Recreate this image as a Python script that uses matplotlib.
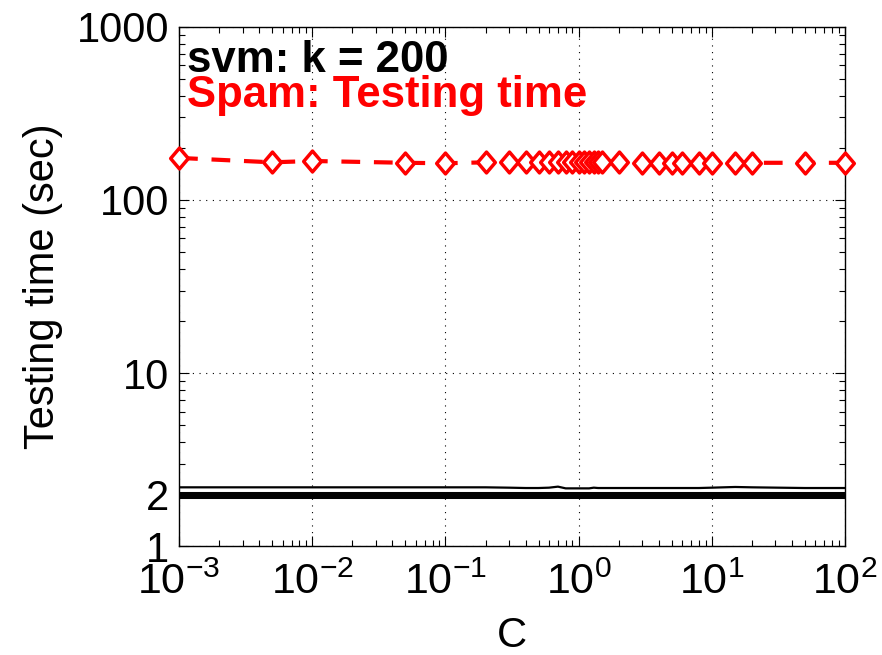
import matplotlib
matplotlib.use("Agg")
import matplotlib.pyplot as plt
import numpy as np
from matplotlib.ticker import FixedLocator, FixedFormatter, LogLocator, NullFormatter
from matplotlib.path import Path

plt.rcParams['font.family'] = ['Liberation Sans', 'DejaVu Sans']
plt.rcParams['mathtext.fontset'] = 'custom'
plt.rcParams['mathtext.rm'] = 'Liberation Sans'
plt.rcParams['mathtext.it'] = 'Liberation Sans:italic'
plt.rcParams['mathtext.bf'] = 'Liberation Sans:bold'

# Data
C_values = [0.001, 0.005, 0.01, 0.05, 0.1, 0.2, 0.3, 0.4, 0.5, 0.6, 0.7, 0.8, 0.9,
            1.0, 1.1, 1.2, 1.3, 1.4, 1.5, 2, 3, 4, 5, 6, 8, 10, 15, 20, 50, 100]
spam_time = [175, 165, 168, 164, 163, 165, 165, 166, 166, 165, 165, 165, 165,
             165, 165, 165, 165, 165, 165, 165, 164, 164, 164, 164, 164, 164, 164, 164, 164, 164]

svm_line1 = [2.19, 2.19, 2.19, 2.19, 2.19, 2.19, 2.18, 2.17, 2.17, 2.18, 2.21, 2.16, 2.16,
             2.16, 2.16, 2.16, 2.18, 2.17, 2.17, 2.17, 2.17, 2.17, 2.17, 2.17, 2.17, 2.18, 2.20, 2.19, 2.17, 2.17]
svm_line2 = [2.03] * len(C_values)
svm_line3 = [2.00, 2.00, 2.00, 2.00, 2.00, 2.00, 2.01, 2.00, 2.00, 2.00, 2.01, 2.00, 2.00,
             2.00, 2.00, 2.00, 2.00, 2.00, 2.00, 2.00, 2.00, 2.00, 2.00, 2.00, 2.00, 2.00, 2.00, 2.00, 2.00, 2.00]
svm_line4 = [1.96] * len(C_values)
svm_line5 = [1.93] * len(C_values)

ytick_vals = [1, 2, 10, 100, 1000]
ytick_labels = ['1', '2', '10', '100', '1000']
xtick_vals = [1e-3, 1e-2, 1e-1, 1e0, 1e1, 1e2]
xtick_labels = [r'$\mathregular{10^{-3}}$', r'$\mathregular{10^{-2}}$', r'$\mathregular{10^{-1}}$',
                r'$\mathregular{10^{0}}$', r'$\mathregular{10^{1}}$', r'$\mathregular{10^{2}}$']

fig = plt.figure(figsize=(8.82, 6.55), dpi=100)
ax = fig.add_axes([0.203, 0.166, 0.755, 0.793])

for ys in [svm_line2, svm_line3, svm_line4, svm_line5]:
    ax.plot(C_values, ys, color='black', lw=2.2)
ax.plot(C_values, svm_line1, color='black', lw=1.6)

diamond = Path([(0, 1), (0.85, 0), (0, -1), (-0.85, 0), (0, 1)],
               [Path.MOVETO, Path.LINETO, Path.LINETO, Path.LINETO, Path.CLOSEPOLY])
ax.plot(C_values, spam_time, color='red', lw=3, ls=(0, (4.5, 3.3)),
        marker=diamond, markersize=15, markerfacecolor='white', markeredgecolor='red',
        markeredgewidth=2.5, clip_on=False, zorder=5)

ax.set_xscale('log')
ax.set_yscale('log')
ax.set_xlim(1e-3, 1e2)
ax.set_ylim(1, 1000)

ax.yaxis.set_major_locator(FixedLocator(ytick_vals))
ax.yaxis.set_major_formatter(FixedFormatter(ytick_labels))
ax.yaxis.set_minor_locator(LogLocator(base=10, subs=np.arange(2, 10)))
ax.yaxis.set_minor_formatter(NullFormatter())
ax.xaxis.set_major_locator(FixedLocator(xtick_vals))
ax.xaxis.set_major_formatter(FixedFormatter(xtick_labels))
ax.xaxis.set_minor_locator(LogLocator(base=10, subs=np.arange(2, 10)))
ax.xaxis.set_minor_formatter(NullFormatter())

ax.tick_params(which='both', direction='in', top=True, right=True, width=0.8)
ax.tick_params(axis='y', labelsize=30)
ax.tick_params(axis='x', labelsize=31)
ax.tick_params(which='major', length=7, pad=7)
ax.tick_params(axis='x', which='major', pad=12)
ax.tick_params(which='minor', length=4)

ax.grid(True, which='major', ls=(0, (1, 5)), color='black', lw=0.8)
for sp in ax.spines.values():
    sp.set_linewidth(1.0)

ax.set_xlabel('C', fontsize=30, labelpad=9)
ax.set_ylabel('Testing time (sec)', fontsize=30, labelpad=10)

ax.text(0.012, 0.913, 'svm: k = 200', transform=ax.transAxes, fontsize=31.5,
        fontweight='bold', color='black', va='baseline', ha='left')
ax.text(0.012, 0.846, 'Spam: Testing time', transform=ax.transAxes, fontsize=31.5,
        fontweight='bold', color='red', va='baseline', ha='left')

fig.savefig('out.png', dpi=100)
